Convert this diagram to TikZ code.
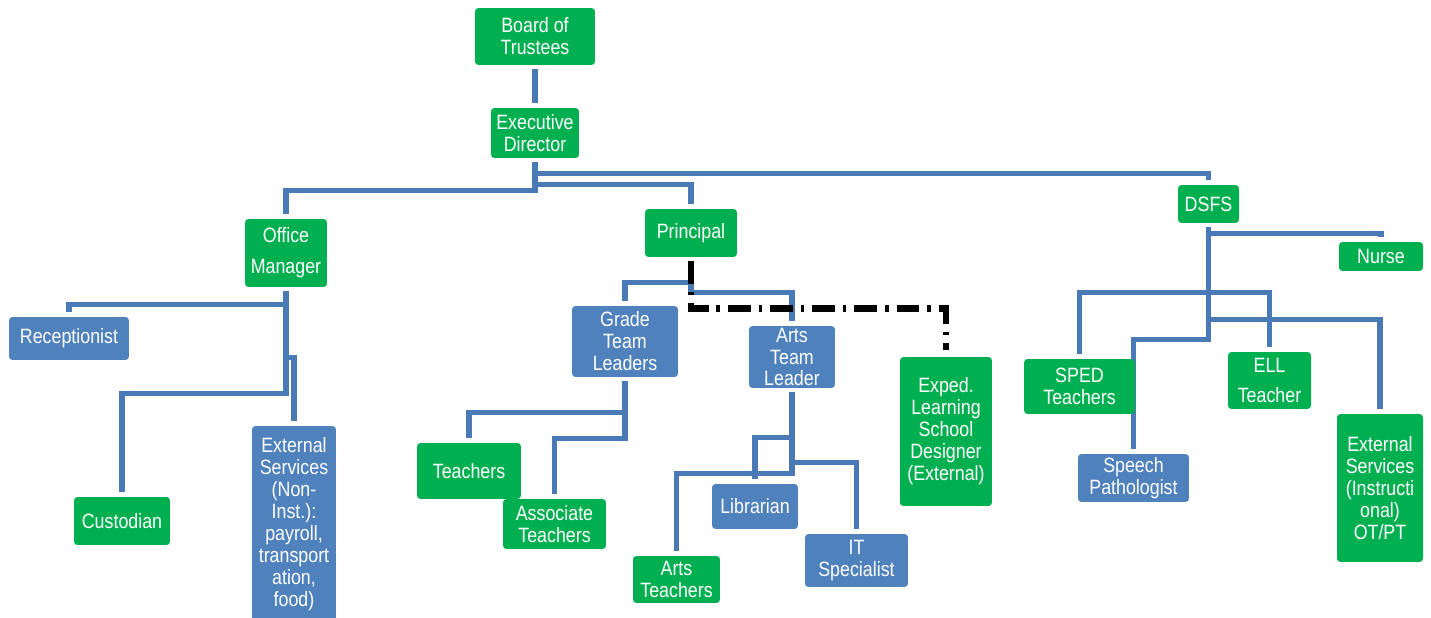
\documentclass[tikz,border=0pt]{standalone}
\usepackage{fontspec}
\setmainfont[FakeStretch=0.86]{Liberation Sans}
\usepackage{xcolor}
\usepackage{tikz}
\usetikzlibrary{backgrounds}
\definecolor{boxgreen}{RGB}{0,176,80}
\definecolor{boxblue}{RGB}{79,129,189}
\definecolor{linkblue}{RGB}{74,122,181}
\tikzstyle{greenbox} = [rectangle, rounded corners=2pt, fill=boxgreen, text=white, align=center, inner sep=0pt, font=\fontsize{11.8}{12.5}\selectfont]
\tikzstyle{bluebox} = [greenbox, fill=boxblue]
\tikzstyle{link} = [draw=linkblue, line width=3.2pt, shorten <=2pt, shorten >=2.5pt]
\tikzstyle{dashlink} = [draw=black, line width=3.6pt, dash pattern=on 13pt off 4.5pt on 2pt off 4.5pt, shorten <=2pt, shorten >=4pt]

\begin{document}
\begin{tikzpicture}[x=0.02cm, y=-0.02cm]
\useasboundingbox (0,0) rectangle (1431,618);
\clip (0,0) rectangle (1431,618);

% Top
\node[greenbox, minimum width=2.4cm, minimum height=1.14cm] (board) at (535,36.5) {Board of\\Trustees};
\node[greenbox, minimum width=1.76cm, minimum height=1cm] (ed) at (535,133) {Executive\\Director};

% Office side
\node[greenbox, minimum width=1.64cm, minimum height=1.36cm] (om) at (286,253) {Office\\[5pt]Manager};
\node[bluebox, minimum width=2.4cm, minimum height=0.86cm] (recep) at (69,338.5) {Receptionist};
\node[greenbox, minimum width=1.92cm, minimum height=0.96cm] (cust) at (122,521) {Custodian};
\node[bluebox, minimum width=1.68cm, minimum height=3.92cm] (extnoninst) at (294,524) {External\\Services\\(Non-\\Inst.):\\payroll,\\transport\\ation,\\food)};

% Principal side
\node[greenbox, minimum width=1.84cm, minimum height=0.96cm] (principal) at (691,233) {Principal};
\node[bluebox, minimum width=2.12cm, minimum height=1.42cm] (grade) at (625,341.5) {Grade\\Team\\Leaders};
\node[bluebox, minimum width=1.72cm, minimum height=1.24cm] (artslead) at (792,357) {Arts\\Team\\Leader};
\node[greenbox, minimum width=1.84cm, minimum height=2.98cm] (exped) at (946,431.5) {Exped.\\Learning\\School\\Designer\\(External)};
\node[greenbox, minimum width=2.08cm, minimum height=1.12cm] (teachers) at (469,471) {Teachers};
\node[greenbox, minimum width=2.06cm, minimum height=1cm] (assoc) at (554.5,524) {Associate\\Teachers};
\node[bluebox, minimum width=1.72cm, minimum height=0.9cm] (librarian) at (755,506.5) {Librarian};
\node[bluebox, minimum width=2.06cm, minimum height=1.06cm] (itspec) at (856.5,560.5) {IT\\Specialist};
\node[greenbox, minimum width=1.74cm, minimum height=0.94cm] (artsteach) at (676.5,579.5) {Arts\\Teachers};

% DSFS side
\node[greenbox, minimum width=1.22cm, minimum height=0.76cm] (dsfs) at (1208.5,204) {DSFS};
\node[greenbox, minimum width=1.68cm, minimum height=0.58cm] (nurse) at (1381,256.5) {Nurse};
\node[greenbox, minimum width=2.22cm, minimum height=1.1cm] (sped) at (1079.5,386.5) {SPED\\Teachers};
\node[bluebox, minimum width=2.22cm, minimum height=0.96cm] (speech) at (1133.5,478) {Speech\\Pathologist};
\node[greenbox, minimum width=1.66cm, minimum height=1.14cm] (ell) at (1269.5,380.5) {ELL\\[5pt]Teacher};
\node[greenbox, minimum width=1.72cm, minimum height=2.96cm] (extinst) at (1380,488) {External\\Services\\(Instructi\\onal)\\OT/PT};

% Connections
\begin{scope}[on background layer]
\draw[link] (board.south) -- (ed.north);
\draw[link] (ed.south) -- ++(0,15) -| (dsfs.north);
\draw[link] (ed.south) -- ++(0,26) -| (principal.north);
\draw[link] (ed.south) -- ++(0,32) -| (om.north);
\draw[link] (om.south) -- ++(0,17) -| (recep.north);
\draw[link] (om.south) -- ++(0,70) -| (extnoninst.north);
\draw[link] (om.south) -- ++(0,106) -| (cust.north);
\draw[link] (principal.south) -- ++(0,25) -| (grade.north);
\draw[link] (principal.south) -- ++(0,35) -| (artslead.north);
\draw[link] (grade.south) -- ++(0,35) -| (teachers.north);
\draw[link] (grade.south) -- ++(0,61) -| (assoc.north);
\draw[link] (artslead.south) -- ++(0,49) -| (librarian.north);
\draw[link] (artslead.south) -- ++(0,74) -| (itspec.north);
\draw[link] (artslead.south) -- ++(0,85) -| (artsteach.north);
\draw[link] (dsfs.south) -- ++(0,10) -| (nurse.north);
\draw[link] (dsfs.south) -- ++(0,69) -| (sped.north);
\draw[link] (dsfs.south) -- ++(0,69) -| (ell.north);
\draw[link] (dsfs.south) -- ++(0,96) -| (extinst.north);
\draw[link] (dsfs.south) -- ++(0,116) -| (speech.north);
\end{scope}
\draw[dashlink] (principal.south) -- ++(0,51) -| (exped.north);
\end{tikzpicture}
\end{document}
